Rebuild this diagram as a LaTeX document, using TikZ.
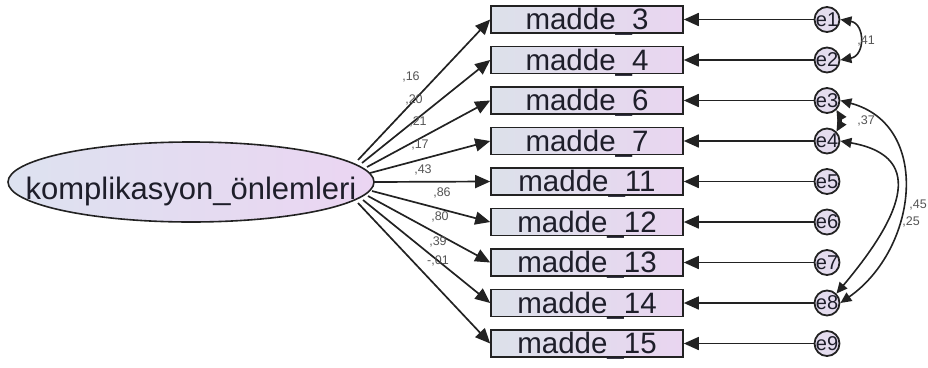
\documentclass[tikz,border=0pt]{standalone}
\usepackage{fontspec}
\setmainfont{Liberation Sans}
\usetikzlibrary{arrows.meta,shapes.geometric}
\definecolor{boxL}{HTML}{DCE1EA}
\definecolor{boxR}{HTML}{E9D5F0}
\definecolor{ellL}{HTML}{DDE2F0}
\definecolor{ellR}{HTML}{EBD5F2}
\definecolor{errfill}{HTML}{E4DCEE}
\definecolor{lineC}{HTML}{222222}
\definecolor{txtC}{HTML}{1E1E2A}
\definecolor{wgray}{HTML}{555555}
\begin{document}
\begin{tikzpicture}[x=1pt,y=-1pt,
  box/.style={draw=lineC, line width=1.6pt, left color=boxL, right color=boxR,
    minimum width=192pt, minimum height=27pt, inner sep=0pt,
    font=\fontsize{29.5}{30}\selectfont, text=txtC, text height=20pt, text depth=0pt},
  ell/.style={ellipse, draw=lineC, line width=1.6pt, left color=ellL, right color=ellR,
    minimum width=366pt, minimum height=80pt, inner sep=0pt,
    font=\fontsize{31}{31}\selectfont, text=txtC, text height=34pt, text depth=0pt},
  err/.style={circle, draw=lineC, line width=1.8pt, fill=errfill, minimum size=25pt, inner sep=0pt},
  errlbl/.style={font=\fontsize{20}{20}\selectfont, text=txtC, inner sep=0pt},
  ld/.style={line width=1.7pt, draw=lineC, -{Triangle[length=15pt,width=13pt]}},
  cov/.style={line width=1.6pt, draw=lineC,
    {Triangle[length=11pt,width=10pt]}-{Triangle[length=11pt,width=10pt]}},
  wt/.style={font=\fontsize{12.5}{12.5}\selectfont, text=wgray, inner sep=0pt}
]
\useasboundingbox (0,0) rectangle (928,367);

% latent variable
\node[ell] (k) at (191,182) {\makebox[0pt]{komplikasyon\_önlemleri}};

% observed variables
\node[box] (m3)  at (587,19.5)  {madde\_3};
\node[box] (m4)  at (587,60)    {madde\_4};
\node[box] (m6)  at (587,100.5) {madde\_6};
\node[box] (m7)  at (587,141)   {madde\_7};
\node[box] (m11) at (587,181.5) {madde\_11};
\node[box] (m12) at (587,222)   {madde\_12};
\node[box] (m13) at (587,262.5) {madde\_13};
\node[box] (m14) at (587,303)   {madde\_14};
\node[box] (m15) at (587,343.5) {madde\_15};

% error terms
\foreach \n/\y in {1/19.5,2/60,3/100.5,4/141,5/181.5,6/222,7/262.5,8/303,9/343.5}{
  \node[err] (e\n) at (827,\y) {};
  \node[errlbl] (le\n) at (827,\y) {e\n};
}

% start points of loadings on the ellipse
\coordinate (s1) at (358,160);
\coordinate (s2) at (362,163);
\coordinate (s3) at (367,167);
\coordinate (s4) at (370,173);
\coordinate (s5) at (373,182);
\coordinate (s6) at (372,191);
\coordinate (s7) at (368,196);
\coordinate (s8) at (363,200);
\coordinate (s9) at (358,203);

\draw[ld] (s1) -- (m3.west);
\draw[ld] (s2) -- (m4.west);
\draw[ld] (s3) -- (m6.west);
\draw[ld] (s4) -- (m7.west);
\draw[ld] (s5) -- (m11.west);
\draw[ld] (s6) -- (m12.west);
\draw[ld] (s7) -- (m13.west);
\draw[ld] (s8) -- (m14.west);
\draw[ld] (s9) -- (m15.west);

% loading values
\node[wt] (w1) at (411,77)  {,16};
\node[wt] (w2) at (414,100) {,20};
\node[wt] (w3) at (418,122) {,21};
\node[wt] (w4) at (420,145) {,17};
\node[wt] (w5) at (423,170) {,43};
\node[wt] (w6) at (442,193) {,86};
\node[wt] (w7) at (440,217) {,80};
\node[wt] (w8) at (438,242) {,39};
\node[wt] (w9) at (438,261) {-,01};

% error paths
\draw[ld] (e1) -- (m3.east);
\draw[ld] (e2) -- (m4.east);
\draw[ld] (e3) -- (m6.east);
\draw[ld] (e4) -- (m7.east);
\draw[ld] (e5) -- (m11.east);
\draw[ld] (e6) -- (m12.east);
\draw[ld] (e7) -- (m13.east);
\draw[ld] (e8) -- (m14.east);
\draw[ld] (e9) -- (m15.east);

% covariances
\draw[cov] (e1.east) to[out=-10,in=10,looseness=1.6] (e2.east);
\draw[cov] (e3.south east) to[bend left=30] (e4.north east);
\draw[cov] (e3.east) to[out=-15,in=35,looseness=1.2] (e8.east);
\draw[cov] (e4.east) to[out=-10,in=50,looseness=1.55] (e8.north east);

\node[wt] (c1) at (866,41)  {,41};
\node[wt] (c2) at (866,121) {,37};
\node[wt] (c3) at (918,205) {,45};
\node[wt] (c4) at (911,222) {,25};
\end{tikzpicture}
\end{document}
